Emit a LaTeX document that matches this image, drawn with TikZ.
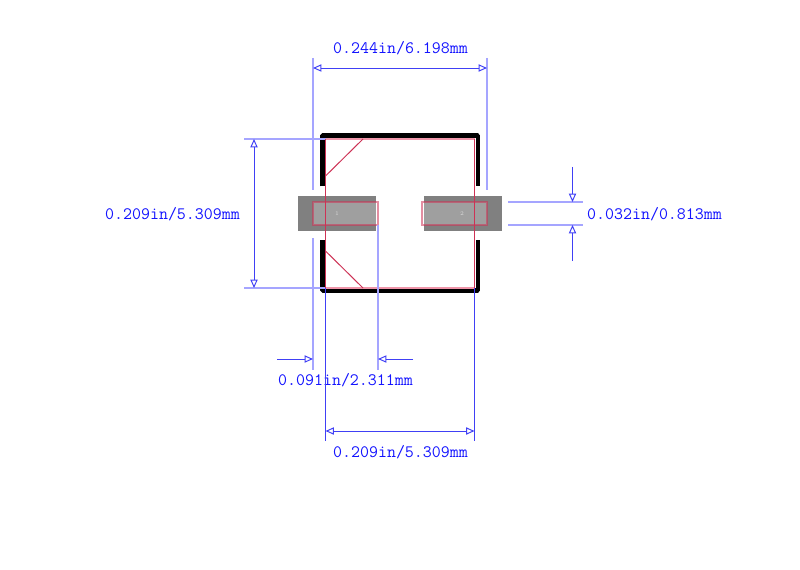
\documentclass[tikz,border=0pt]{standalone}
\usepackage{tikz}
\usetikzlibrary{positioning,calc}
\usetikzlibrary{arrows.meta}
\definecolor{dimblue}{RGB}{64,64,245}
\definecolor{extblue}{RGB}{165,165,255}
\definecolor{textblue}{RGB}{20,20,255}
\definecolor{outlinered}{RGB}{205,50,85}
\definecolor{outlinepink}{RGB}{240,150,170}
\tikzstyle{pad} = [rectangle, minimum width=1.95cm, minimum height=0.875cm, inner sep=0pt, fill=black!50]
\tikzstyle{padtop} = [rectangle, minimum width=1.625cm, minimum height=0.575cm, inner sep=0pt, fill=white, fill opacity=0.25, draw=outlinered, draw opacity=0.55, line width=1.2pt]
\tikzstyle{pin} = [inner sep=0pt, text=black!15, font=\fontsize{4}{4}\selectfont]
\tikzstyle{dim} = [inner sep=0pt, text=textblue, font=\fontsize{12.4}{14}\ttfamily]
\tikzstyle{silk} = [line width=3.2pt, line join=bevel]
\tikzstyle{side} = [draw=outlinered, line width=0.7pt]
\tikzstyle{edge} = [draw=outlinepink, line width=1.5pt]
\tikzstyle{ext} = [draw=extblue, line width=1.2pt]
\tikzstyle{extthin} = [draw=dimblue, line width=0.6pt]
\tikzstyle{arrow} = [draw=dimblue, line width=0.7pt, -{Triangle[open,length=6pt,width=5.2pt]}]
\tikzstyle{both} = [draw=dimblue, line width=0.7pt, {Triangle[open,length=6pt,width=5.2pt]}-{Triangle[open,length=6pt,width=5.2pt]}]
\begin{document}
\begin{tikzpicture}[x=0.025cm,y=-0.025cm]
	\useasboundingbox (0,0) rectangle (800,570);
	% pads
	\node (pa) at (337,213.5) [pad] {};
	\node (pb) at (463,213.5) [pad] {};
	\node (ta) at (345.5,213.5) [padtop] {};
	\node (tb) at (454.5,213.5) [padtop] {};
	\node (na) at (337,214) [pin] {1};
	\node (nb) at (462,214) [pin] {2};
	% silk screen
	\coordinate (s1) at (322.5,186.5);
	\coordinate (s2) at (322.5,135.5);
	\coordinate (s3) at (478,135.5);
	\coordinate (s4) at (478,186.5);
	\coordinate (s5) at (322.5,240);
	\coordinate (s6) at (322.5,290.5);
	\coordinate (s7) at (478,290.5);
	\coordinate (s8) at (478,240);
	\draw[silk] (s1) -- (s2) -- (s3) -- (s4);
	\draw[silk] (s5) -- (s6) -- (s7) -- (s8);
	% body outline
	\coordinate (b1) at (325.5,139);
	\coordinate (b2) at (474.5,139);
	\coordinate (b3) at (474.5,288);
	\coordinate (b4) at (325.5,288);
	\coordinate (c1) at (325.5,176);
	\coordinate (c2) at (363,139);
	\coordinate (c3) at (325.5,251);
	\coordinate (c4) at (363,288);
	\coordinate (h1) at (244,139);
	\coordinate (h2) at (244,288);
	\draw[ext] (h1) -- (b1);
	\draw[ext] (h2) -- (b4);
	\draw[edge] (b1) -- (b2);
	\draw[edge] (b4) -- (b3);
	\draw[side] (b1) -- (b4);
	\draw[side] (b2) -- (b3);
	\draw[side] (c1) -- (c2);
	\draw[side] (c3) -- (c4);
	% overall width
	\coordinate (w1) at (313,58);
	\coordinate (w2) at (313,190);
	\coordinate (w3) at (487,58);
	\coordinate (w4) at (487,190);
	\coordinate (w5) at (313,68);
	\coordinate (w6) at (487,68);
	\draw[ext] (w1) -- (w2);
	\draw[ext] (w3) -- (w4);
	\draw[both] (w5) -- (w6);
	\node (lw) at (400.5,48) [dim] {0.244in/6.198mm};
	% body height
	\coordinate (h3) at (254,139);
	\coordinate (h4) at (254,288);
	\draw[both] (h3) -- (h4);
	\node (lh) at (172.5,214.5) [dim] {0.209in/5.309mm};
	% pad height
	\coordinate (r1) at (508,202);
	\coordinate (r2) at (583,202);
	\coordinate (r3) at (508,225);
	\coordinate (r4) at (583,225);
	\coordinate (r5) at (572.5,167);
	\coordinate (r6) at (572.5,202);
	\coordinate (r7) at (572.5,261);
	\coordinate (r8) at (572.5,225);
	\draw[ext] (r1) -- (r2);
	\draw[ext] (r3) -- (r4);
	\draw[arrow] (r5) -- (r6);
	\draw[arrow] (r7) -- (r8);
	\node (lr) at (654.5,214.5) [dim] {0.032in/0.813mm};
	% pad length
	\coordinate (l1) at (313,238);
	\coordinate (l2) at (313,370);
	\coordinate (l3) at (378,225);
	\coordinate (l4) at (378,370);
	\coordinate (l5) at (277,359);
	\coordinate (l6) at (313,359);
	\coordinate (l7) at (413,359);
	\coordinate (l8) at (378,359);
	\draw[ext] (l1) -- (l2);
	\draw[ext] (l3) -- (l4);
	\draw[arrow] (l5) -- (l6);
	\draw[arrow] (l7) -- (l8);
	\node (ll) at (345.5,380.5) [dim] {0.091in/2.311mm};
	% body width
	\coordinate (d1) at (325.5,441);
	\coordinate (d2) at (474.5,441);
	\coordinate (d3) at (325.5,431);
	\coordinate (d4) at (474.5,431);
	\draw[extthin] (b4) -- (d1);
	\draw[extthin] (b3) -- (d2);
	\draw[both] (d3) -- (d4);
	\node (ld) at (400.5,452) [dim] {0.209in/5.309mm};
\end{tikzpicture}
\end{document}
